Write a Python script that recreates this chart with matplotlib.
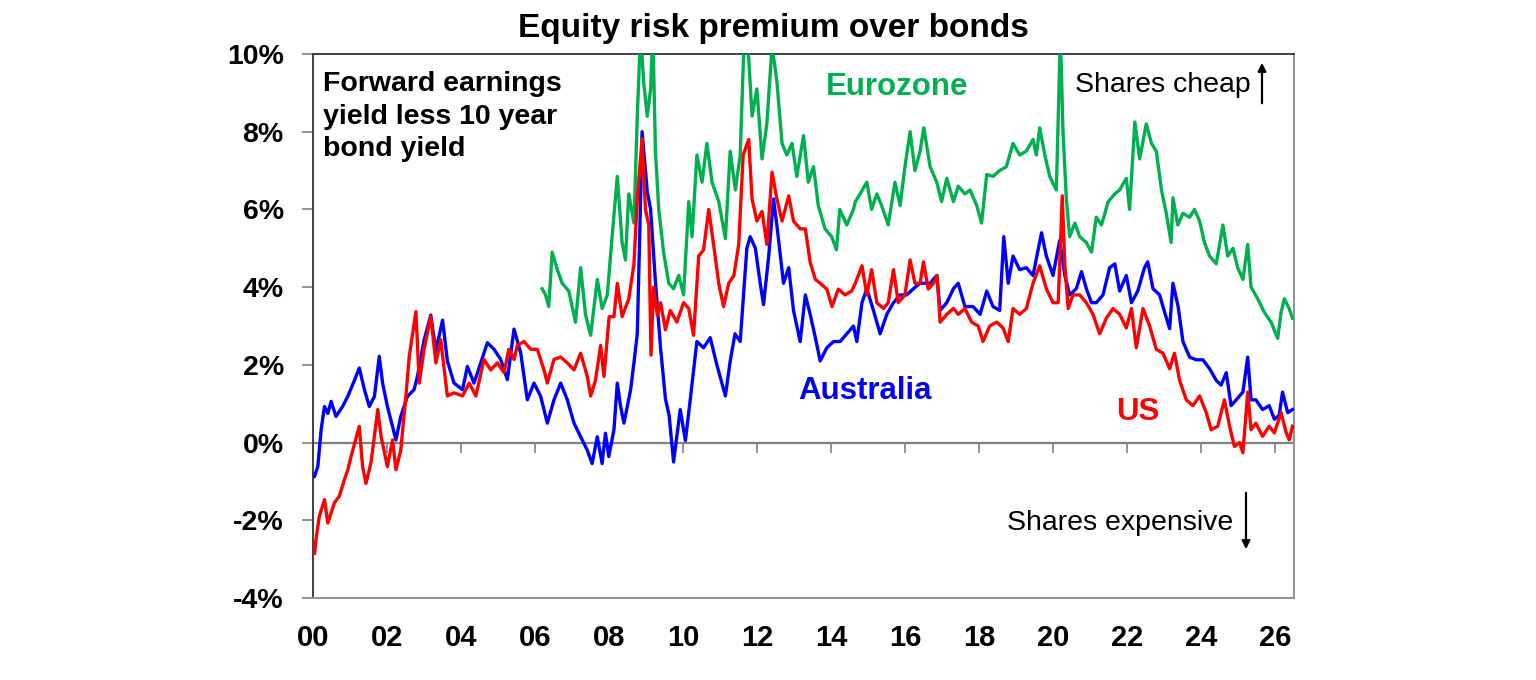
import matplotlib
matplotlib.use("Agg")
import matplotlib.pyplot as plt

plt.rcParams['font.family'] = ['Liberation Sans', 'DejaVu Sans']

# ---- data (years since 2000, % points) ----
au_t = [0.04, 0.13, 0.22, 0.31, 0.40, 0.49, 0.62, 0.80, 0.94, 1.12, 1.25, 1.39, 1.52, 1.66, 1.79, 1.88,
        2.01, 2.24, 2.37, 2.55, 2.73, 2.82, 3.00, 3.18, 3.32, 3.50, 3.63, 3.81, 4.04, 4.17, 4.35, 4.53,
        4.71, 4.89, 5.07, 5.25, 5.43, 5.61, 5.79, 5.97, 6.15, 6.33, 6.51, 6.69, 6.87, 7.05, 7.23, 7.41,
        7.54, 7.68, 7.81, 7.90, 7.99, 8.13, 8.22, 8.31, 8.40, 8.58, 8.67, 8.76, 8.83, 8.89, 9.03, 9.12,
        9.25, 9.39, 9.52, 9.62, 9.74, 9.92, 10.06, 10.19, 10.37, 10.55, 10.73, 10.91, 11.14, 11.27,
        11.40, 11.54, 11.72, 11.81, 11.95, 12.08, 12.17, 12.31, 12.44, 12.53, 12.71, 12.85, 12.98,
        13.16, 13.30, 13.43, 13.57, 13.70, 13.88, 14.06, 14.24, 14.42, 14.60, 14.69, 14.83, 14.96,
        15.14, 15.32, 15.50, 15.68, 15.86, 16.04, 16.22, 16.40, 16.67, 16.85, 16.94, 17.12, 17.30,
        17.43, 17.61, 17.83, 18.02, 18.20, 18.37, 18.55, 18.66, 18.78, 18.91, 19.09, 19.27, 19.45,
        19.68, 19.81, 19.99, 20.17, 20.31, 20.44, 20.62, 20.76, 20.89, 21.03, 21.16, 21.34, 21.52,
        21.66, 21.79, 21.97, 22.11, 22.28, 22.46, 22.55, 22.69, 22.87, 22.96, 23.14, 23.23, 23.37,
        23.50, 23.68, 23.86, 24.04, 24.22, 24.40, 24.53, 24.67, 24.80, 24.94, 25.12, 25.25, 25.34,
        25.47, 25.65, 25.83, 25.97, 26.10, 26.19, 26.33, 26.46]
au_v = [-0.87, -0.62, 0.33, 0.93, 0.75, 1.06, 0.67, 0.93, 1.19, 1.6, 1.92, 1.36, 0.93, 1.19, 2.22, 1.53,
        0.93, 0.07, 0.67, 1.19, 1.36, 1.7, 2.63, 3.28, 2.37, 3.15, 2.1, 1.53, 1.36, 1.96, 1.53, 2.05,
        2.57, 2.4, 2.14, 1.62, 2.92, 2.31, 1.1, 1.53, 1.19, 0.5, 1.1, 1.53, 1.1, 0.5, 0.15, -0.2,
        -0.54, 0.15, -0.54, 0.24, -0.36, 0.33, 1.53, 0.93, 0.5, 1.36, 2.05, 2.8, 5.5, 8.0, 6.45, 6.0,
        4.14, 2.42, 1.13, 0.7, -0.5, 0.85, 0.05, 1.1, 2.6, 2.44, 2.7, 2.0, 1.2, 2.1,
        2.8, 2.6, 5.0, 5.3, 5.0, 4.1, 3.55, 4.8, 6.27, 5.6, 4.1, 4.5, 3.4,
        2.6, 3.8, 3.3, 2.7, 2.1, 2.44, 2.6, 2.6, 2.8, 3.0, 2.6, 3.6, 3.96,
        3.4, 2.8, 3.3, 3.6, 3.8, 3.8, 3.96, 4.1, 4.1, 4.3, 3.4, 3.6, 3.96,
        4.1, 3.5, 3.5, 3.3, 3.9, 3.5, 3.4, 5.3, 4.1, 4.8, 4.45, 4.5, 4.3,
        5.4, 4.8, 4.3, 5.2, 4.3, 3.8, 3.96, 4.4, 3.96, 3.6, 3.6, 3.8, 4.5,
        4.6, 3.9, 4.3, 3.6, 3.9, 4.5, 4.65, 3.96, 3.8, 3.5, 2.93, 4.1, 3.5,
        2.6, 2.2, 2.13, 2.13, 1.9, 1.6, 1.48, 1.8, 0.95, 1.1, 1.3, 2.2, 1.1,
        1.1, 0.85, 0.95, 0.6, 0.7, 1.3, 0.77, 0.85]

us_t = [0.04, 0.08, 0.17, 0.31, 0.40, 0.58, 0.71, 0.85, 0.94, 1.03, 1.25, 1.34, 1.43, 1.57, 1.75, 1.84,
        2.01, 2.15, 2.24, 2.37, 2.50, 2.60, 2.78, 2.87, 3.00, 3.18, 3.32, 3.45, 3.63, 3.81, 4.04, 4.22,
        4.40, 4.62, 4.80, 4.98, 5.16, 5.29, 5.43, 5.52, 5.70, 5.88, 6.06, 6.24, 6.33, 6.51, 6.69, 6.87,
        7.05, 7.23, 7.41, 7.50, 7.63, 7.77, 7.86, 8.00, 8.13, 8.22, 8.35, 8.53, 8.67, 8.76, 8.89, 8.98,
        9.07, 9.13, 9.20, 9.30, 9.39, 9.52, 9.65, 9.83, 10.01, 10.15, 10.28, 10.42, 10.55, 10.69,
        10.82, 10.96, 11.09, 11.23, 11.37, 11.50, 11.62, 11.77, 11.86, 11.99, 12.13, 12.26, 12.40,
        12.53, 12.67, 12.85, 12.98, 13.16, 13.30, 13.43, 13.57, 13.70, 13.88, 14.02, 14.19, 14.37,
        14.55, 14.65, 14.83, 14.96, 15.09, 15.23, 15.41, 15.54, 15.68, 15.81, 15.99, 16.13, 16.26,
        16.40, 16.49, 16.62, 16.76, 16.86, 16.94, 17.12, 17.30, 17.43, 17.61, 17.79, 17.97, 18.10,
        18.28, 18.47, 18.64, 18.78, 18.91, 19.09, 19.27, 19.45, 19.63, 19.81, 19.99, 20.13, 20.24,
        20.31, 20.40, 20.53, 20.71, 20.89, 21.07, 21.25, 21.43, 21.61, 21.79, 21.97, 22.11, 22.24,
        22.42, 22.60, 22.78, 22.96, 23.14, 23.27, 23.41, 23.59, 23.77, 23.95, 24.13, 24.26, 24.44,
        24.62, 24.76, 24.89, 25.03, 25.12, 25.25, 25.34, 25.47, 25.65, 25.83, 25.97, 26.15, 26.29,
        26.37, 26.46]
us_v = [-2.85, -2.5, -1.9, -1.47, -2.07, -1.55, -1.38, -0.95, -0.7, -0.35, 0.42, -0.62, -1.05, -0.5, 0.85, 0.15,
        -0.62, 0.07, -0.7, -0.2, 1.1, 2.22, 3.37, 1.53, 2.4, 3.24, 2.05, 2.65, 1.2, 1.28, 1.2, 1.53,
        1.2, 2.14, 1.87, 2.05, 1.8, 2.4, 2.14, 2.5, 2.6, 2.4, 2.4, 1.87, 1.53, 2.14, 2.2, 2.05,
        1.87, 2.3, 1.7, 1.2, 1.6, 2.5, 1.7, 3.24, 3.24, 4.1, 3.24, 3.7, 4.6, 6.27, 7.82, 6.0,
        5.6, 2.25, 4.0, 3.28, 3.6, 2.9, 3.4, 3.1, 3.6, 3.45, 2.76, 4.8, 4.96, 6.0,
        5.1, 4.1, 3.5, 4.1, 4.3, 5.1, 7.4, 7.8, 6.27, 5.7, 5.95, 5.1, 6.96,
        6.27, 5.7, 6.35, 5.7, 5.5, 5.5, 4.64, 4.2, 4.1, 3.95, 3.5, 3.95, 3.8,
        3.9, 4.1, 4.55, 3.8, 4.45, 3.6, 3.45, 3.6, 4.45, 3.6, 3.8, 4.7, 4.1,
        4.1, 4.65, 3.95, 4.1, 4.3, 3.1, 3.3, 3.45, 3.3, 3.45, 3.1, 3.0, 2.6,
        3.0, 3.1, 2.95, 2.6, 3.45, 3.3, 3.45, 4.1, 4.55, 3.96, 3.6, 3.6, 6.35,
        4.55, 3.45, 3.8, 3.8, 3.6, 3.3, 2.8, 3.2, 3.45, 3.3, 2.95, 3.45, 2.44,
        3.45, 3.0, 2.4, 2.3, 1.9, 2.3, 1.6, 1.1, 0.95, 1.2, 0.77, 0.33, 0.42,
        1.1, 0.42, -0.1, 0.0, -0.26, 1.3, 0.33, 0.5, 0.16, 0.42, 0.25, 0.77, 0.25,
        0.07, 0.42]

ez_t = [6.19, 6.28, 6.37, 6.46, 6.60, 6.73, 6.91, 7.09, 7.23, 7.36, 7.50, 7.68, 7.81, 7.95, 8.08, 8.22,
        8.35, 8.44, 8.53, 8.67, 8.76, 8.85, 8.93, 9.03, 9.12, 9.18, 9.25, 9.34, 9.47, 9.61, 9.74, 9.88,
        10.01, 10.15, 10.24, 10.37, 10.51, 10.64, 10.78, 10.96, 11.14, 11.27, 11.41, 11.54, 11.65,
        11.77, 11.86, 11.99, 12.13, 12.26, 12.40, 12.53, 12.67, 12.80, 12.94, 13.07, 13.25, 13.38,
        13.52, 13.65, 13.83, 14.01, 14.14, 14.23, 14.42, 14.60, 14.65, 14.78, 14.96, 15.09, 15.23,
        15.36, 15.54, 15.72, 15.86, 15.99, 16.13, 16.26, 16.40, 16.50, 16.67, 16.85, 16.98, 17.12,
        17.30, 17.43, 17.61, 17.75, 17.93, 18.06, 18.20, 18.37, 18.55, 18.73, 18.91, 19.09, 19.27,
        19.45, 19.54, 19.63, 19.77, 19.90, 20.08, 20.19, 20.26, 20.35, 20.44, 20.58, 20.71, 20.89,
        21.03, 21.16, 21.30, 21.48, 21.66, 21.79, 21.97, 22.06, 22.20, 22.33, 22.51, 22.65, 22.78,
        22.92, 23.05, 23.18, 23.23, 23.36, 23.50, 23.68, 23.81, 23.95, 24.08, 24.22, 24.40, 24.58,
        24.71, 24.85, 24.98, 25.12, 25.25, 25.34, 25.52, 25.70, 25.88, 26.06, 26.15, 26.24, 26.37,
        26.46]
ez_v = [3.96, 3.8, 3.5, 4.9, 4.45, 4.1, 3.9, 3.1, 4.5, 3.3, 2.76, 4.2, 3.45, 3.8, 5.3, 6.85,
        5.15, 4.7, 6.4, 5.65, 8.4, 10.6, 9.3, 8.4, 9.1, 10.6, 7.5, 6.0, 4.9, 4.1, 3.96, 4.3,
        3.8, 6.2, 5.3, 7.4, 6.7, 7.7, 6.7, 6.2, 5.25, 7.5, 6.5, 7.4, 10.5,
        9.9, 8.4, 9.1, 7.3, 8.2, 10.2, 9.3, 7.7, 7.4, 7.7, 6.85, 7.9, 6.7,
        7.1, 6.1, 5.5, 5.3, 4.96, 6.0, 5.6, 6.0, 6.2, 6.4, 6.7, 6.0, 6.4,
        6.1, 5.6, 6.7, 6.1, 7.1, 8.0, 7.0, 7.5, 8.1, 7.1, 6.7, 6.2, 6.8,
        6.2, 6.6, 6.4, 6.5, 6.1, 5.65, 6.9, 6.85, 7.0, 7.1, 7.7, 7.4, 7.5,
        7.8, 7.4, 8.1, 7.4, 6.85, 6.5, 10.5, 8.0, 6.27, 5.3, 5.65, 5.3, 5.15,
        4.9, 5.8, 5.6, 6.2, 6.4, 6.5, 6.8, 6.0, 8.25, 7.3, 8.2, 7.7, 7.5,
        6.5, 5.9, 5.15, 6.3, 5.6, 5.9, 5.8, 6.0, 5.7, 5.15, 4.8, 4.6, 5.6,
        4.8, 5.0, 4.5, 4.2, 5.1, 4.0, 3.7, 3.35, 3.1, 2.68, 3.35, 3.7, 3.45,
        3.2]

x_ticks = list(range(0, 27, 2))
x_labels = ["00", "02", "04", "06", "08", "10", "12", "14", "16", "18", "20", "22", "24", "26"]
y_ticks = [-4, -2, 0, 2, 4, 6, 8, 10]
y_labels = ["-4%", "-2%", "0%", "2%", "4%", "6%", "8%", "10%"]

# ---- figure ----
W, H = 1536, 680
fig = plt.figure(figsize=(W / 100, H / 100), dpi=100)
ax = fig.add_axes([313 / W, 1 - 598 / H, (1294 - 313) / W, (598 - 54) / H])

lw = 2.4
ax.plot(ez_t, ez_v, color='#00B050', lw=lw, zorder=3)
ax.plot(au_t, au_v, color='#0000FF', lw=lw, zorder=4)
ax.plot(us_t, us_v, color='#FF0000', lw=lw, zorder=5)

ax.set_xlim(0, 26.5)
ax.set_ylim(-4, 10)
ax.axhline(0, color='#808080', lw=1.6, zorder=2)

ax.set_yticks(y_ticks)
ax.set_yticklabels(y_labels, fontsize=20.5, fontweight='bold')
ax.tick_params(axis='y', direction='out', length=8, width=1.2, color='#808080', pad=13)

ax.set_xticks(x_ticks)
ax.set_xticklabels(x_labels, fontsize=21, fontweight='bold')
ax.tick_params(axis='x', length=0, pad=19)

# tick marks on the zero line
sec = ax.secondary_xaxis(4 / 14)
sec.set_xticks(x_ticks)
sec.set_xticklabels([])
sec.tick_params(axis='x', direction='out', length=7, width=1.2, color='#808080')
sec.spines['bottom'].set_visible(False)

for s in ['left', 'top']:
    ax.spines[s].set_color('#404040')
    ax.spines[s].set_linewidth(1.4)
for s in ['right', 'bottom']:
    ax.spines[s].set_color('#909090')
    ax.spines[s].set_linewidth(1.4)

def fx(px):
    return px / W

def fy(py):
    return 1 - py / H

fig.text(fx(773), fy(29), "Equity risk premium over bonds", ha='center', va='center',
         fontsize=24, fontweight='bold')
fig.text(fx(323), fy(71), "Forward earnings\nyield less 10 year\nbond yield", ha='left', va='top',
         fontsize=20.5, fontweight='bold', linespacing=1.33)
fig.text(fx(897), fy(87), "Eurozone", ha='center', va='center', fontsize=22.5, fontweight='bold',
         color='#00B050')
fig.text(fx(865), fy(391), "Australia", ha='center', va='center', fontsize=22.5, fontweight='bold',
         color='#0000FF')
fig.text(fx(1138), fy(412), "US", ha='center', va='center', fontsize=22.5, fontweight='bold',
         color='#FF0000')
fig.text(fx(1251), fy(85), "Shares cheap", ha='right', va='center', fontsize=20.5)
fig.text(fx(1233), fy(523), "Shares expensive", ha='right', va='center', fontsize=20.5)

fig.add_artist(matplotlib.patches.FancyArrowPatch((fx(1262), fy(106)), (fx(1262), fy(60)),
               transform=fig.transFigure, arrowstyle='-|>', mutation_scale=12, color='black', lw=1.6))
fig.add_artist(matplotlib.patches.FancyArrowPatch((fx(1246), fy(490)), (fx(1246), fy(552)),
               transform=fig.transFigure, arrowstyle='-|>', mutation_scale=12, color='black', lw=1.6))

fig.savefig("out.png", dpi=100, facecolor='white')
